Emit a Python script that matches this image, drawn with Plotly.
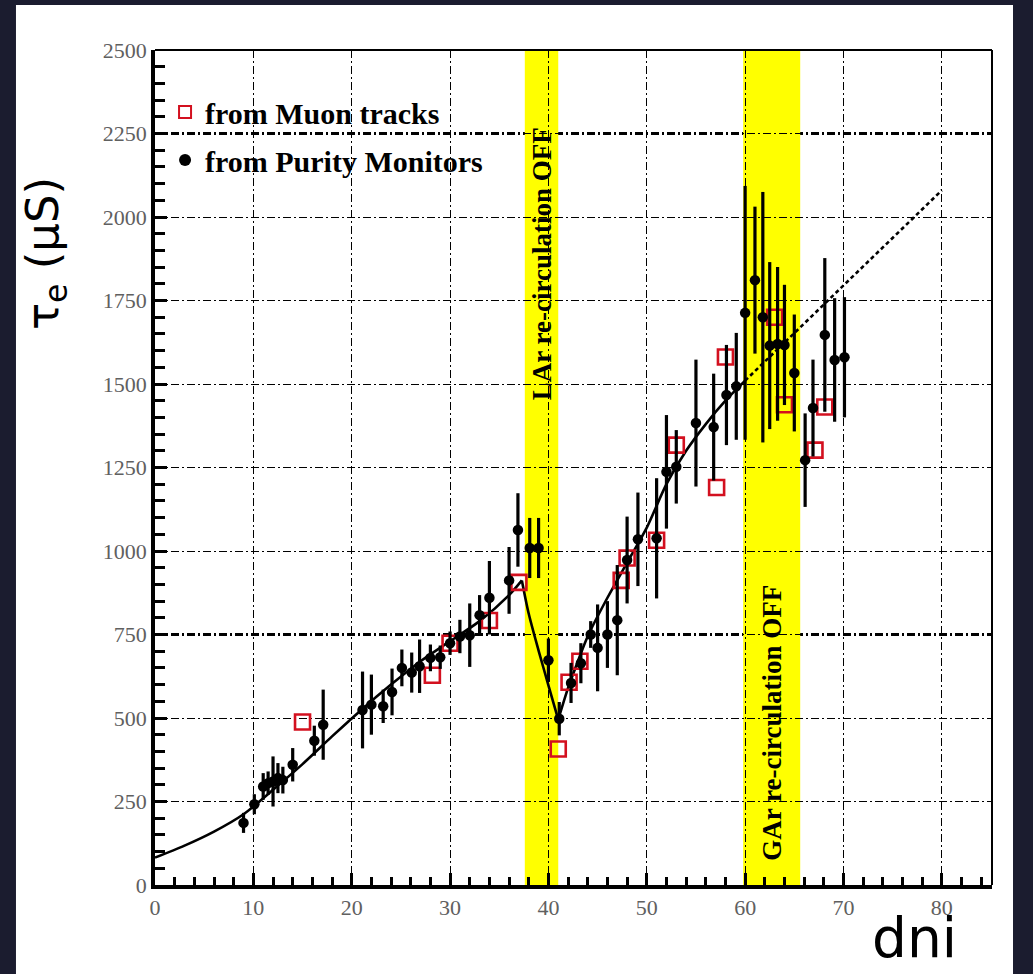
import plotly.graph_objects as go

# ---------------- data ----------------
muon_x = [15.0, 28.2, 30.0, 34.0, 37.0, 41.0, 42.1, 43.2, 47.4, 48.0, 51.0, 53.0,
          57.1, 58.0, 63.0, 64.0, 67.1, 68.1]
muon_y = [488, 628, 724, 792, 906, 407, 607, 670, 912, 979, 1032, 1317,
          1190, 1581, 1700, 1438, 1302, 1431]

pm_x = [9.0, 10.1, 11.0, 11.5, 12.0, 12.5, 13.0, 14.0, 16.2, 17.1, 21.1, 22.0,
        23.2, 24.1, 25.1, 26.1, 26.9, 28.0, 29.0, 30.0, 31.0, 32.0, 33.0, 34.0,
        36.0, 36.9, 38.1, 39.0, 40.0, 41.1, 42.3, 43.3, 44.3, 45.0, 46.0, 47.0,
        48.0, 49.1, 51.0, 52.0, 53.0, 55.0, 56.8, 58.1, 59.1, 60.0, 61.0, 61.8,
        62.5, 63.3, 64.0, 65.0, 66.1, 66.9, 68.1, 69.1, 70.1]
pm_y = [186, 242, 295, 305, 310, 320, 314, 360, 432, 480, 524, 540,
        535, 578, 650, 636, 655, 680, 682, 724, 744, 748, 808, 860,
        912, 1063, 1009, 1009, 673, 498, 605, 664, 750, 710, 750, 793,
        973, 1035, 1038, 1237, 1252, 1383, 1371, 1467, 1493, 1713, 1811, 1700,
        1615, 1620, 1617, 1533, 1272, 1428, 1647, 1572, 1580]
pm_err = [30, 30, 40, 35, 75, 45, 40, 50, 45, 105, 115, 90,
          50, 70, 55, 60, 80, 40, 35, 35, 50, 95, 60, 110,
          100, 110, 90, 90, 65, 50, 60, 60, 40, 130, 100, 165,
          130, 140, 180, 170, 110, 190, 160, 150, 160, 380, 220, 375,
          250, 230, 180, 175, 140, 145, 230, 185, 180]

# fitted curve, three pieces (rise, decay while LAr recirculation off, rise again)
fit1_x = [0, 3, 6, 9, 12, 15, 18, 21, 24, 27, 30, 33, 36, 37.3]
fit1_y = [82, 118, 160, 212, 285, 362, 445, 525, 600, 670, 730, 790, 868, 912]
fit2_x = [37.3, 38, 39, 40, 41]
fit2_y = [912, 812, 702, 598, 495]
fit3_x = [41, 42, 43, 44, 46, 48, 50, 52, 54, 56, 58, 60]
fit3_y = [495, 590, 670, 745, 860, 965, 1070, 1200, 1300, 1380, 1450, 1510]
ext_x = [60, 80]
ext_y = [1510, 2080]

band_x0 = [37.6, 59.8]
band_x1 = [41.0, 65.6]
band_labels = ["LAr re-circulation OFF", "GAr re-circulation OFF"]
band_label_y = [1860, 485]
thick_grid_y = [750, 2250]

x_range = [0, 85.1]
y_range = [0, 2500]

SERIF = "Liberation Serif"
GRIDDASH = "8px,3px,2px,3px"
BG = "#1b1c2f"

# ---------------- figure ----------------
fig = go.Figure()

for fx, fy in [(fit1_x, fit1_y), (fit2_x, fit2_y), (fit3_x, fit3_y)]:
    fig.add_trace(go.Scatter(x=fx, y=fy, mode="lines", line_shape="spline",
                             line=dict(color="black", width=2.6, smoothing=0.8),
                             showlegend=False, hoverinfo="skip"))
fig.add_trace(go.Scatter(x=ext_x, y=ext_y, mode="lines",
                         line=dict(color="black", width=2.6, dash="4px,3px"),
                         showlegend=False, hoverinfo="skip"))

fig.add_trace(go.Scatter(
    x=muon_x, y=muon_y, mode="markers", name="from Muon tracks",
    legendgroup="mu",
    marker=dict(symbol="square-open", size=15, color="#d3101f",
                line=dict(color="#d3101f", width=2.6))))

fig.add_trace(go.Scatter(
    x=pm_x, y=pm_y, mode="markers", name="from Purity Monitors",
    legendgroup="pm",
    marker=dict(symbol="circle", size=10.5, color="black"),
    error_y=dict(type="data", array=pm_err, visible=True, color="black",
                 thickness=3.2, width=0)))

shapes = []
# white panel behind the chart
shapes.append(dict(type="rect", xref="paper", yref="paper",
                   x0=-0.1661, x1=1.0251, y0=-0.125, y1=1.0539,
                   fillcolor="white", line=dict(width=0), layer="below"))
# thicker dash-dot grid lines
for gy in thick_grid_y:
    shapes.append(dict(type="line", xref="paper", yref="y", x0=0, x1=1, y0=gy, y1=gy,
                       line=dict(color="black", width=3, dash=GRIDDASH),
                       layer="between"))
# yellow bands
for b0, b1 in zip(band_x0, band_x1):
    shapes.append(dict(type="rect", xref="x", yref="paper", x0=b0, x1=b1, y0=0, y1=1,
                       fillcolor="#ffff00", line=dict(width=0), layer="between"))
# thin top / right frame
shapes.append(dict(type="line", xref="paper", yref="paper", x0=0, x1=1, y0=1, y1=1,
                   line=dict(color="black", width=2)))
shapes.append(dict(type="line", xref="paper", yref="paper", x0=1, x1=1, y0=0, y1=1,
                   line=dict(color="black", width=2)))

annotations = []
for b0, b1, lab, ly in zip(band_x0, band_x1, band_labels, band_label_y):
    annotations.append(dict(x=(b0 + b1) / 2, y=ly, xref="x", yref="y", text=lab,
                            showarrow=False, textangle=-90,
                            font=dict(family=SERIF, size=27, color="black",
                                      weight="bold")))
annotations.append(dict(x=-0.1314, y=0.7557, xref="paper", yref="paper",
                        text="τ<sub>e</sub> (μS)", showarrow=False, textangle=-90,
                        xanchor="center", yanchor="middle",
                        font=dict(family="DejaVu Sans", size=45, color="black")))
annotations.append(dict(x=0.908, y=-0.063, xref="paper", yref="paper",
                        text="dni", showarrow=False, xanchor="center", yanchor="middle",
                        font=dict(family="DejaVu Sans", size=55, color="black")))

axis_common = dict(
    ticks="inside", tickwidth=3, tickcolor="black",
    showline=True, linewidth=3.5, linecolor="black", mirror=False,
    showgrid=True, gridcolor="black", gridwidth=1.4, griddash=GRIDDASH,
    zeroline=False,
    tickfont=dict(family=SERIF, size=22, color="#606060"),
)

fig.update_layout(
    width=1033, height=974,
    margin=dict(l=155, r=41, t=50, b=89),
    paper_bgcolor=BG,
    plot_bgcolor="white",
    shapes=shapes,
    annotations=annotations,
    legend=dict(x=0.012, y=0.957, xanchor="left", yanchor="top",
                bgcolor="rgba(0,0,0,0)",
                font=dict(family=SERIF, size=30, color="black", weight="bold"),
                traceorder="grouped", tracegroupgap=6,
                itemsizing="constant"),
    xaxis=dict(range=x_range, tick0=0, dtick=10, ticklen=12,
               minor=dict(dtick=2, ticks="inside", ticklen=8, tickwidth=3,
                          tickcolor="black", showgrid=False),
               **axis_common),
    yaxis=dict(range=y_range, tick0=0, dtick=250, ticklen=12,
               minor=dict(dtick=50, ticks="inside", ticklen=10, tickwidth=3,
                          tickcolor="black", showgrid=False),
               **axis_common),
)

fig.write_html(
    "out.html",
    config={"displayModeBar": False},
    post_script=("document.body.style.margin='0';"
                 "document.body.style.background='" + BG + "';"
                 "document.body.style.overflow='hidden';"),
)
